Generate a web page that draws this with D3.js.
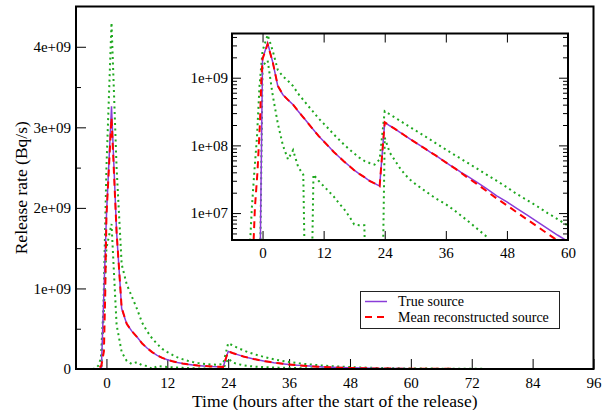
<!DOCTYPE html>
<html>
<head>
<meta charset="utf-8">
<script src="https://cdn.jsdelivr.net/npm/d3@7"></script>
<style>
body { margin: 0; background: #fff; }
svg text { font-family: "Liberation Serif", "Times New Roman", serif; fill: #000; }
</style>
</head>
<body>
<svg width="609" height="410"></svg>
<script>
// ---- data (hours after start of release, Bq/s) ----
var trueTime = [-6,-1,0,1,2,3,4,5,6,7,8,9,10,11,12,13,14,15,16,17,18,19,20,21,22,23,
  24,25,26,27,28,29,30,31,32,33,34,35,36,37,38,39,40,42,44,46,48,50,52,54,56,58,60,72,84,96];
var trueRate = [0,0,1.9e9,3.26e9,1.7e9,7.5e8,5.6e8,4.7e8,4.0e8,3.2e8,2.6e8,2.1e8,1.7e8,1.38e8,1.15e8,9.6e7,8.0e7,6.8e7,5.8e7,5.0e7,4.3e7,3.8e7,3.4e7,3.0e7,2.75e7,2.5e7,
  2.19e8,1.95e8,1.75e8,1.56e8,1.39e8,1.24e8,1.11e8,9.9e7,8.9e7,7.9e7,7.1e7,6.3e7,5.6e7,5.0e7,4.5e7,4.0e7,3.6e7,2.9e7,2.3e7,1.8e7,1.46e7,1.16e7,9.3e6,7.4e6,5.9e6,4.7e6,3.8e6,1e6,2.6e5,7e4];

var meanTime = [-6,-2,-1.75,-1.5,-1,-0.5,-0.25,0,1,2,3,4,5,6,7,8,9,10,11,12,13,14,15,16,17,18,19,20,21,22,23,
  24,25,26,27,28,29,30,31,32,33,34,35,36,38,40,42,44,46,48,50,52,54,56,58,60,72,84,96];
var meanRate = [0,0,4e6,1.2e7,4e7,2.2e8,9e8,1.9e9,3.12e9,1.7e9,7.6e8,5.6e8,4.7e8,4.0e8,3.2e8,2.6e8,2.1e8,1.7e8,1.38e8,1.15e8,9.6e7,8.0e7,6.8e7,5.8e7,5.0e7,4.3e7,3.8e7,3.4e7,3.0e7,2.75e7,2.5e7,
  2.19e8,1.95e8,1.75e8,1.56e8,1.39e8,1.24e8,1.11e8,9.9e7,8.9e7,7.9e7,7.1e7,6.3e7,5.6e7,4.45e7,3.45e7,2.72e7,2.12e7,1.64e7,1.3e7,1.02e7,8.0e6,6.3e6,4.95e6,3.9e6,3.1e6,8e5,2e5,5e4];

var upperTime = [-6,-3,-2.5,-2.1,-1.6,-1.1,-0.6,0,1,2,3,4,5,6,7,8,9,10,11,12,13,14,15,16,17,18,19,20,21,22,23,
  24,26,28,30,32,34,36,38,40,42,44,46,48,50,52,54,56,58,60,72,84,96];
var upperRate = [0,0,3e6,1.2e7,4.2e7,1.3e8,7.5e8,2.5e9,4.3e9,2.5e9,1.3e9,1.05e9,9e8,7.5e8,5.8e8,4.7e8,3.8e8,3.1e8,2.5e8,2.1e8,1.75e8,1.45e8,1.22e8,1.03e8,8.8e7,7.6e7,6.6e7,5.9e7,5.5e7,5.2e7,6.2e7,
  3.2e8,2.58e8,2.07e8,1.67e8,1.35e8,1.08e8,8.7e7,7.0e7,5.7e7,4.6e7,3.7e7,3.0e7,2.4e7,1.9e7,1.55e7,1.25e7,1.0e7,8.1e6,6.5e6,1.8e6,5e5,1.3e5];

var lowerTime = [-6,-1,0,1,2,3,4,5,6,7,8,9,10,11,12,13,14,15,16,17,18,19,20,21,22,23,
  24,25,26,27,28,29,30,32,34,36,38,40,42,44,45,96];
var lowerRate = [0,0,1.5e9,1.8e9,5.5e8,2.1e8,1.0e8,6.2e7,8.5e7,4.8e7,3.7e7,0,3.7e7,3.0e7,2.5e7,2.1e7,1.75e7,1.4e7,1.15e7,9e6,6.8e6,6.6e6,6.6e6,0,0,0,
  1.3e8,7.8e7,6e7,4.6e7,3.7e7,3.1e7,2.7e7,2.1e7,1.65e7,1.35e7,1.05e7,8e6,6e6,4.5e6,0,0];

var mainXTicks = [0,12,24,36,48,60,72,84,96];
var mainYTicks = [0,1e9,2e9,3e9,4e9];
var mainYLabels = ["0","1e+09","2e+09","3e+09","4e+09"];
var mainYMinor = [0.5e9,1.5e9,2.5e9,3.5e9];
var insetXTicks = [0,12,24,36,48,60];
var insetYTicks = [1e7,1e8,1e9];
var insetYLabels = ["1e+07","1e+08","1e+09"];
var insetYMinor = [4e6,5e6,6e6,7e6,8e6,9e6,2e7,3e7,4e7,5e7,6e7,7e7,8e7,9e7,2e8,3e8,4e8,5e8,6e8,7e8,8e8,9e8,2e9,3e9,4e9];

var legendNames = ["True source","Mean reconstructed source"];

var svg = d3.select("svg");

var purple = "#8a3cd8", red = "#ff0000", green = "#1fa81f";

function toPoints(times, rates){ return times.map(function(t,i){ return {t:t, v:rates[i]}; }); }
var series = [
  {pts: toPoints(upperTime, upperRate), color: green, w: 2, dash: "2,3.5"},
  {pts: toPoints(lowerTime, lowerRate), color: green, w: 2, dash: "2,3.5"},
  {pts: toPoints(trueTime, trueRate), color: purple, w: 1.5, dash: null},
  {pts: toPoints(meanTime, meanRate), color: red, w: 2, dash: "7,5"}
];

function styleAxis(g, size){
  g.attr("font-family", null).attr("font-size", size);
  g.select(".domain").remove();
  g.selectAll(".tick line").attr("stroke", "#000");
}

// ---- main plot ----
var m = {left: 76, right: 593.5, top: 6.5, bottom: 369};
var x = d3.scaleLinear().domain([-6, 96]).range([m.left, m.right]);
var y = d3.scaleLinear().domain([0, 4.5e9]).range([m.bottom, m.top]);

svg.append("clipPath").attr("id", "clipMain")
  .append("rect").attr("x", m.left).attr("y", m.top).attr("width", m.right - m.left).attr("height", m.bottom - m.top);

svg.append("g").attr("transform", "translate(0," + m.bottom + ")")
  .call(d3.axisBottom(x).tickValues(mainXTicks).tickFormat(d3.format("d")).tickSize(-10).tickPadding(8.5))
  .call(styleAxis, 15);

svg.append("g").attr("transform", "translate(" + m.left + ",0)")
  .call(d3.axisLeft(y).tickValues(mainYTicks).tickFormat(function(d,i){ return mainYLabels[i]; }).tickSize(-10).tickPadding(5))
  .call(styleAxis, 15);

svg.append("g").attr("transform", "translate(" + m.left + ",0)")
  .call(d3.axisLeft(y).tickValues(mainYMinor).tickFormat("").tickSize(-5))
  .call(styleAxis, 15);

var mainLine = d3.line().x(function(d){ return x(d.t); }).y(function(d){ return y(d.v); });

var mainCurves = svg.append("g").attr("clip-path", "url(#clipMain)");
series.forEach(function(s){
  mainCurves.append("path").attr("d", mainLine(s.pts))
    .attr("fill", "none").attr("stroke", s.color).attr("stroke-width", s.w)
    .attr("stroke-dasharray", s.dash);
});

svg.append("rect").attr("x", m.left).attr("y", m.top).attr("width", m.right - m.left).attr("height", m.bottom - m.top)
  .attr("fill", "none").attr("stroke", "#000").attr("stroke-width", 2);

svg.append("text").attr("x", (m.left + m.right) / 2).attr("y", 407)
  .attr("text-anchor", "middle").attr("font-size", 17.5)
  .text("Time (hours after the start of the release)");

svg.append("text").attr("transform", "translate(27," + (m.top + m.bottom) / 2 + ") rotate(-90)")
  .attr("text-anchor", "middle").attr("font-size", 17.5)
  .text("Release rate (Bq/s)");

// ---- inset (log scale) ----
var n = {left: 232, right: 568, top: 33.5, bottom: 240};
var ix = d3.scaleLinear().domain([-6, 60]).range([n.left, n.right]);
var iy = d3.scaleLog().domain([4e6, 4.5e9]).range([n.bottom, n.top]);

svg.append("rect").attr("x", n.left).attr("y", n.top).attr("width", n.right - n.left).attr("height", n.bottom - n.top)
  .attr("fill", "#fff");

svg.append("clipPath").attr("id", "clipInset")
  .append("rect").attr("x", n.left).attr("y", n.top).attr("width", n.right - n.left).attr("height", n.bottom - n.top);

var inLine = d3.line().x(function(d){ return ix(d.t); }).y(function(d){ return iy(Math.max(d.v, 1e3)); });
var inCurves = svg.append("g").attr("clip-path", "url(#clipInset)");
series.forEach(function(s){
  inCurves.append("path").attr("d", inLine(s.pts))
    .attr("fill", "none").attr("stroke", s.color).attr("stroke-width", s.w)
    .attr("stroke-dasharray", s.dash);
});

svg.append("g").attr("transform", "translate(0," + n.bottom + ")")
  .call(d3.axisBottom(ix).tickValues(insetXTicks).tickFormat(d3.format("d")).tickSize(-9).tickPadding(7.5))
  .call(styleAxis, 15);
svg.append("g").attr("transform", "translate(0," + n.top + ")")
  .call(d3.axisTop(ix).tickValues(insetXTicks).tickFormat("").tickSize(-9))
  .call(styleAxis, 15);
svg.append("g").attr("transform", "translate(" + n.left + ",0)")
  .call(d3.axisLeft(iy).tickValues(insetYTicks).tickFormat(function(d,i){ return insetYLabels[i]; }).tickSize(-9).tickPadding(4))
  .call(styleAxis, 15);
svg.append("g").attr("transform", "translate(" + n.left + ",0)")
  .call(d3.axisLeft(iy).tickValues(insetYMinor).tickFormat("").tickSize(-5))
  .call(styleAxis, 15);
svg.append("g").attr("transform", "translate(" + n.right + ",0)")
  .call(d3.axisRight(iy).tickValues(insetYTicks).tickFormat("").tickSize(-9))
  .call(styleAxis, 15);
svg.append("g").attr("transform", "translate(" + n.right + ",0)")
  .call(d3.axisRight(iy).tickValues(insetYMinor).tickFormat("").tickSize(-5))
  .call(styleAxis, 15);

svg.append("rect").attr("x", n.left).attr("y", n.top).attr("width", n.right - n.left).attr("height", n.bottom - n.top)
  .attr("fill", "none").attr("stroke", "#000").attr("stroke-width", 2);

// ---- legend ----
var lg = svg.append("g");
lg.append("rect").attr("x", 360.5).attr("y", 291.5).attr("width", 199).attr("height", 37)
  .attr("fill", "#fff").attr("stroke", "#222").attr("stroke-width", 1);
[series[2], series[3]].forEach(function(s, i){
  var yy = 301.5 + i * 15.5;
  lg.append("line").attr("x1", 365).attr("x2", 387).attr("y1", yy).attr("y2", yy)
    .attr("stroke", s.color).attr("stroke-width", s.w).attr("stroke-dasharray", s.dash);
  lg.append("text").attr("x", 398).attr("y", yy + 4.5).attr("font-size", 14).text(legendNames[i]);
});
</script>
</body>
</html>
